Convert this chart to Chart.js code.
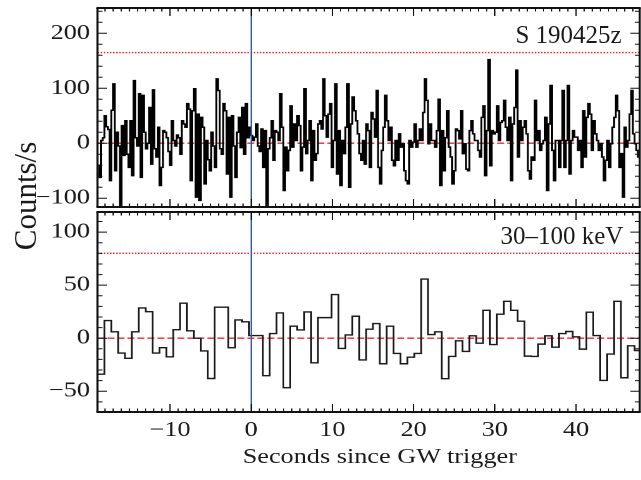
<!DOCTYPE html>
<html>
<head>
<meta charset="utf-8">
<script src="https://cdn.jsdelivr.net/npm/chart.js@4.4.1/dist/chart.umd.min.js"></script>
<style>
html,body{margin:0;padding:0;background:#fff;}
body{width:641px;height:480px;position:relative;overflow:hidden;font-family:"Liberation Serif","Times New Roman",serif;color:#1a1a1a;}
#wrap{position:absolute;left:0;top:0;width:513px;height:480px;transform-origin:0 0;transform:scaleX(1.24951);}
#wrap canvas{position:absolute;left:0;top:0;}
.lbl{position:absolute;white-space:nowrap;}
</style>
</head>
<body>
<div id="wrap">
  <canvas id="topChart" width="513" height="480"></canvas>
  <canvas id="botChart" width="513" height="480"></canvas>
  <div class="lbl" id="xTitle" style="left:154px;width:300px;top:443px;font-size:21px;line-height:26px;text-align:center;">Seconds since GW trigger</div>
</div>
<div class="lbl" id="yTitle" style="left:-73.8px;top:175.8px;width:200px;height:40px;line-height:40px;font-size:31px;text-align:center;transform:rotate(-90deg);transform-origin:50% 50%;">Counts/s</div>
<div class="lbl" id="topLabel" style="left:400px;width:221.7px;top:19.9px;font-size:25px;line-height:30px;text-align:right;">S 190425z</div>
<div class="lbl" id="botLabel" style="left:400px;width:223.3px;top:220.6px;font-size:25px;line-height:30px;text-align:right;">30–100 keV</div>

<script>
// ---------------- data ----------------
const timeRange = [-18.93, 47.85];          // seconds since GW trigger (axis span)
const triggerTime = 0;

// upper panel: fine-binned light curve (counts/s, background subtracted)
const topBinStart = -18.93;
const topBinWidth = 0.212;
const topCounts = [
 -40,-62,5,10,50,30,25,-68,60,108,-50,20,-5,-113,32,-22,41,-20,-44,41,
 -59,114,10,-5,90,-62,87,20,-10,0,65,-38,97,-10,-25,29,-77,-44,23,20,
 10,-15,-40,41,5,-5,15,10,-20,41,35,29,72,62,-68,59,99,-98,53,-104,
 47,29,-74,5,-30,-50,20,-5,-44,117,96,-10,-20,72,59,-56,47,-98,50,-5,
 -62,20,47,-8,65,-20,72,10,29,14,5,11,35,-5,-15,26,-44,23,-118,-10,
 10,41,-31,23,20,5,90,29,-86,-7,-50,-13,68,-7,35,5,50,32,-50,-7,
 99,-19,5,41,-68,23,-31,-19,35,41,26,117,50,11,53,72,-44,5,108,-56,
 23,-77,5,-19,29,108,-80,35,84,59,41,17,-19,-31,5,-38,35,23,-44,56,
 44,11,96,-44,-74,-13,29,87,41,5,29,-31,-41,5,-31,17,-7,-1,-50,-68,
 -74,5,-7,2,35,-7,5,26,5,56,117,78,-1,35,5,5,-7,23,80,-77,
 23,-50,10,59,-7,-25,-74,-50,26,23,8,59,-19,-1,-47,-50,23,41,17,5,
 5,-13,-25,47,68,-59,23,152,-41,23,17,20,68,5,38,41,78,29,5,47,
 -68,35,65,133,-25,41,5,29,41,17,-50,-65,-25,-31,78,5,23,-13,-1,5,
 47,-86,35,105,-13,-68,5,5,-44,5,96,-44,5,105,-56,5,23,11,11,-13,
 5,-44,59,-25,47,72,53,-13,41,17,5,-13,-1,-25,-68,-31,5,-44,-1,29,
 47,87,59,-44,-19,-98,29,-7,5,53,96,17,-1,-13,-25
];
const topRange = [-116, 246];
const topThreshold = 165;                   // dotted level
const topTickSteps = [100, 20];             // major, minor

// lower panel: 30-100 keV light curve
const botBinStart = -18.93;
const botBinWidth = 0.848;
const botCounts = [
 -33.9,16.6,6,-14,-19,6,28.5,25,-14,-9,-17.6,8,33,7,0,-12,-38,29.2,29.2,-9,
 17.2,15.4,2.5,2.5,-35.4,4.4,23.8,-46.7,11.3,7.8,24.8,-23.2,19.4,19.4,41.1,-9.7,3.1,20.7,-20.5,8.5,
 13.8,-24.1,11.3,-14.4,-24.1,-17.9,-14.4,55.8,3.4,6,-38.2,-17.2,-2.5,-12.5,2.2,-4.7,26.3,-6,22.6,34.8,
 26.3,16,-16.9,-17.2,-5.6,2.2,-8.5,4.4,6.3,1.3,-10.3,24.5,2.5,-39.8,-15,34.8,-37.3,-7.2,-11.6
];
const botRange = [-69.6, 119];
const botThreshold = 80;
const botTickSteps = [50, 10];

const xTickSteps = [10, 1];                 // major, minor (s)

// ---------------- helpers ----------------
function histPoints(start, width, vals) {
  const pts = vals.map((v, i) => ({x: start + i * width, y: v}));
  pts.push({x: start + vals.length * width, y: vals[vals.length - 1]});
  return pts;
}
const minusFmt = v => (v < 0 ? '\u2212' + Math.abs(v) : String(v));

Chart.defaults.font.family = '"Liberation Serif", "Times New Roman", serif';
Chart.defaults.color = '#1a1a1a';

const framePlugin = {
  id: 'frame',
  afterDatasetsDraw(chart, args, o) {
    const {ctx, chartArea: a} = chart;
    const xs = chart.scales.x, ys = chart.scales.y;
    ctx.save();
    ctx.strokeStyle = '#111';
    ctx.lineWidth = 1;
    ctx.beginPath();
    for (let v = Math.ceil(xs.min / o.xMinor) * o.xMinor; v <= xs.max + 1e-9; v += o.xMinor) {
      const r = Math.round(v);
      const px = xs.getPixelForValue(r);
      const len = (r % o.xMajor === 0) ? 8 : 3.5;
      ctx.moveTo(px, a.bottom); ctx.lineTo(px, a.bottom - len);
      ctx.moveTo(px, a.top); ctx.lineTo(px, a.top + len);
    }
    for (let v = Math.ceil(ys.min / o.yMinor) * o.yMinor; v <= ys.max + 1e-9; v += o.yMinor) {
      const r = Math.round(v);
      const py = ys.getPixelForValue(r);
      const len = (r % o.yMajor === 0) ? 7.5 : 4;
      ctx.moveTo(a.left, py); ctx.lineTo(a.left + len, py);
      ctx.moveTo(a.right, py); ctx.lineTo(a.right - len, py);
    }
    ctx.stroke();
    ctx.lineWidth = 2;
    ctx.beginPath();
    ctx.moveTo(a.left - 0.8, a.top); ctx.lineTo(a.right + 0.8, a.top);
    ctx.moveTo(a.left - 0.8, a.bottom); ctx.lineTo(a.right + 0.8, a.bottom);
    ctx.stroke();
    ctx.lineWidth = 1.6;
    ctx.beginPath();
    ctx.moveTo(a.left, a.top); ctx.lineTo(a.left, a.bottom);
    ctx.moveTo(a.right, a.top); ctx.lineTo(a.right, a.bottom);
    ctx.stroke();
    ctx.restore();
  }
};

function makeChart(id, cfg) {
  const tickFont = {size: 21, family: '"Liberation Serif", "Times New Roman", serif'};
  return new Chart(document.getElementById(id), {
    type: 'line',
    data: {
      datasets: [
        { // trigger marker
          data: [{x: triggerTime, y: cfg.yRange[0]}, {x: triggerTime, y: cfg.yRange[1]}],
          borderColor: '#3b58a6', borderWidth: 1, pointRadius: 0
        },
        { // light curve
          data: histPoints(cfg.binStart, cfg.binWidth, cfg.counts),
          stepped: 'before', borderColor: cfg.lineColor, borderWidth: cfg.lineWidth,
          pointRadius: 0, tension: 0
        },
        { // zero level
          data: [{x: timeRange[0], y: 0}, {x: timeRange[1], y: 0}],
          borderColor: '#f0262e', borderWidth: 1.4, borderDash: [5.6, 2.4], pointRadius: 0
        },
        { // threshold
          data: [{x: timeRange[0], y: cfg.threshold}, {x: timeRange[1], y: cfg.threshold}],
          borderColor: '#ff1a1a', borderWidth: 1.4, borderDash: [1.2, 1.3], pointRadius: 0
        }
      ]
    },
    options: {
      responsive: false,
      animation: false,
      devicePixelRatio: 2,
      events: [],
      layout: {autoPadding: false, padding: cfg.padding},
      plugins: {
        legend: {display: false},
        tooltip: {enabled: false},
        frame: {xMajor: xTickSteps[0], xMinor: xTickSteps[1], yMajor: cfg.ySteps[0], yMinor: cfg.ySteps[1]}
      },
      scales: {
        x: {
          type: 'linear', min: timeRange[0], max: timeRange[1], display: cfg.showX,
          grid: {display: false, drawTicks: false}, border: {display: false},
          ticks: {stepSize: xTickSteps[0], includeBounds: false, autoSkip: false, maxRotation: 0,
                  padding: 6, font: tickFont, color: '#1a1a1a', callback: minusFmt},
          afterFit(s) { s.height = cfg.showX ? 68 : 0; s.paddingLeft = 0; s.paddingRight = 0; }
        },
        y: {
          type: 'linear', min: cfg.yRange[0], max: cfg.yRange[1],
          grid: {display: false, drawTicks: false}, border: {display: false},
          ticks: {stepSize: cfg.ySteps[0], includeBounds: false, autoSkip: false,
                  padding: 6, font: tickFont, color: '#1a1a1a', callback: minusFmt},
          afterFit(s) { s.width = 78; s.paddingTop = 0; s.paddingBottom = 0; }
        }
      }
    },
    plugins: [framePlugin]
  });
}

makeChart('topChart', {
  counts: topCounts, binStart: topBinStart, binWidth: topBinWidth,
  yRange: topRange, threshold: topThreshold, ySteps: topTickSteps,
  lineColor: '#000', lineWidth: 1.5, showX: false,
  padding: {left: 0, right: 1, top: 8, bottom: 273}
});
makeChart('botChart', {
  counts: botCounts, binStart: botBinStart, binWidth: botBinWidth,
  yRange: botRange, threshold: botThreshold, ySteps: botTickSteps,
  lineColor: '#1a1a1a', lineWidth: 1.4, showX: true,
  padding: {left: 0, right: 1, top: 212, bottom: 0}
});
</script>
</body>
</html>
